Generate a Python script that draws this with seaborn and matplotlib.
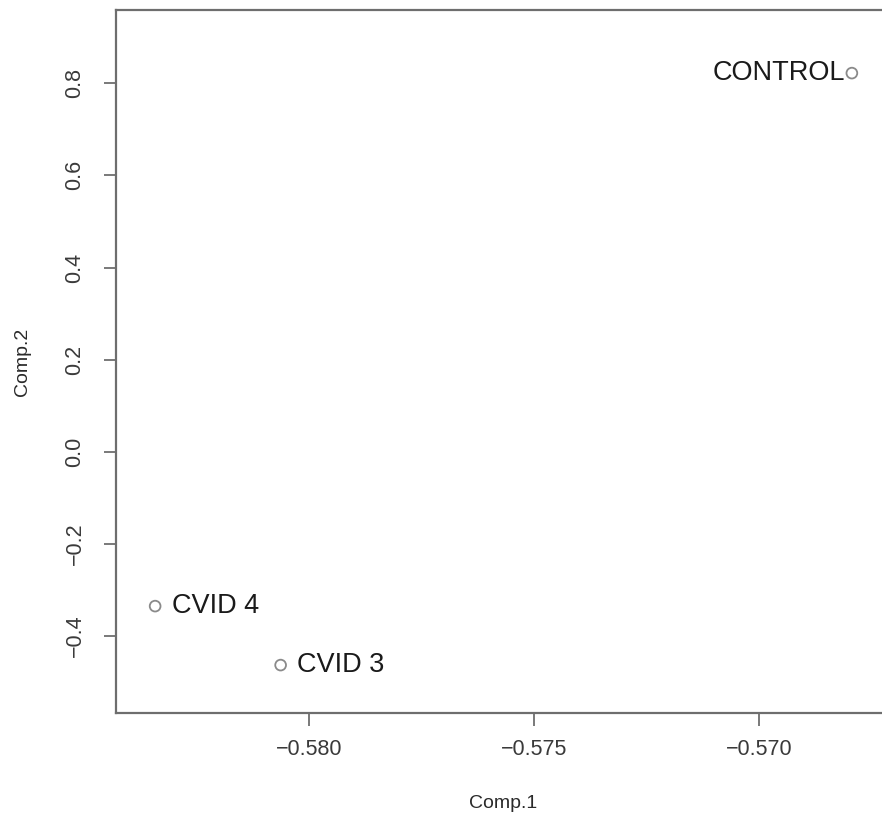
import matplotlib
matplotlib.use("Agg")
import matplotlib.pyplot as plt
import seaborn as sns
import pandas as pd

labels = ["CONTROL", "CVID 4", "CVID 3"]
comp1 = [-0.56793, -0.58342, -0.58063]
comp2 = [0.822, -0.335, -0.463]
label_side = ["left", "right", "right"]
xticks = [-0.580, -0.575, -0.570]
yticks = [-0.4, -0.2, 0.0, 0.2, 0.4, 0.6, 0.8]

sns.set_theme(style="white")
plt.rcParams["font.family"] = ["Liberation Sans", "DejaVu Sans"]

df = pd.DataFrame({"Comp.1": comp1, "Comp.2": comp2, "label": labels})

fig = plt.figure(figsize=(8.82, 8.25), dpi=100)
ax = fig.add_axes([116 / 882, 1 - 713 / 825, (891 - 116) / 882, (713 - 10) / 825])
sns.scatterplot(data=df, x="Comp.1", y="Comp.2", ax=ax, s=60, marker="o",
                facecolor="none", edgecolor="#8a8a8a", linewidth=1.3)

for x, y, t, side in zip(comp1, comp2, labels, label_side):
    if side == "left":
        ax.annotate(t, (x, y), xytext=(-5, 0), textcoords="offset points",
                    ha="right", va="center", fontsize=19.5, color="#1a1a1a")
    else:
        ax.annotate(t, (x, y), xytext=(12, 0), textcoords="offset points",
                    ha="left", va="center", fontsize=19.5, color="#1a1a1a")

ax.set_xlim(-0.58429, -0.56706)
ax.set_ylim(-0.567, 0.959)
ax.set_xticks(xticks)
ax.set_xticklabels([f"{v:.3f}".replace("-", "\u2212") for v in xticks])
ax.set_yticks(yticks)
ax.set_yticklabels([f"{v:.1f}".replace("-", "\u2212") for v in yticks],
                   rotation=90, va="center")
ax.tick_params(axis="both", direction="out", length=9, width=1.3,
               color="#6e6e6e", labelsize=15.5, labelcolor="#3a3a3a",
               bottom=True, left=True)
ax.tick_params(axis="x", pad=10)
ax.tick_params(axis="y", pad=13)
for sp in ax.spines.values():
    sp.set_color("#6e6e6e")
    sp.set_linewidth(1.6)
ax.set_xlabel("Comp.1", fontsize=14, color="#2a2a2a", labelpad=25)
ax.set_ylabel("Comp.2", fontsize=14, color="#2a2a2a", labelpad=24)

fig.savefig("out.png", dpi=100)
